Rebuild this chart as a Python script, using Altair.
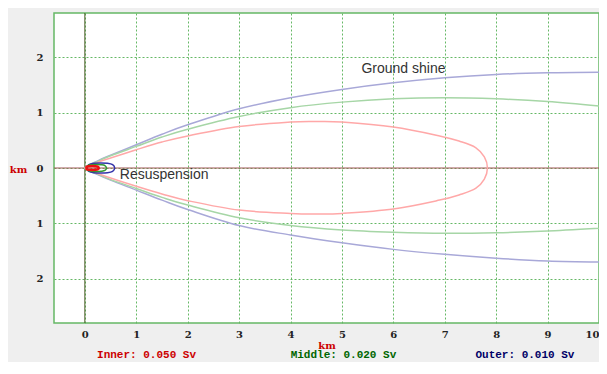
import altair as alt
import pandas as pd

# ---- Ground shine contours ----
outer_x = [0, 0.25, 0.5, 1, 1.5, 2, 3, 4, 5, 6, 7, 8, 9, 10]
outer_up = [0, 0.13, 0.23, 0.42, 0.61, 0.78, 1.07, 1.27, 1.42, 1.54, 1.63, 1.69, 1.72, 1.73]
outer_lo = [0, -0.12, -0.22, -0.40, -0.58, -0.75, -1.04, -1.21, -1.35, -1.47, -1.56, -1.63, -1.68, -1.70]

middle_x = [0, 0.25, 0.5, 1, 1.5, 2, 3, 4, 5, 6, 7, 8, 9, 10]
middle_up = [0, 0.12, 0.22, 0.39, 0.56, 0.70, 0.93, 1.09, 1.19, 1.25, 1.27, 1.25, 1.20, 1.12]
middle_lo = [0, -0.11, -0.21, -0.37, -0.53, -0.67, -0.90, -1.04, -1.12, -1.16, -1.18, -1.17, -1.14, -1.09]

inner_x = [0, 0.25, 0.5, 1, 1.5, 2, 3, 4, 4.5, 5, 6, 6.9, 7.3, 7.6, 7.77, 7.83]
inner_up = [0, 0.10, 0.18, 0.33, 0.47, 0.58, 0.75, 0.83, 0.84, 0.83, 0.74, 0.58, 0.48, 0.37, 0.20, 0]
inner_lo = [0, -0.10, -0.18, -0.33, -0.47, -0.59, -0.76, -0.82, -0.83, -0.82, -0.74, -0.58, -0.48, -0.37, -0.20, 0]

# ---- Resuspension contours (small loops near the source) ----
res_outer_x = [0.04, 0.08, 0.18, 0.31, 0.44, 0.54, 0.58, 0.54, 0.44, 0.31, 0.18, 0.08, 0.04]
res_outer_y = [0, 0.06, 0.085, 0.09, 0.085, 0.06, 0, -0.06, -0.085, -0.09, -0.085, -0.06, 0]
res_middle_x = [0.03, 0.06, 0.13, 0.225, 0.32, 0.39, 0.42, 0.39, 0.32, 0.225, 0.13, 0.06, 0.03]
res_middle_y = [0, 0.045, 0.06, 0.065, 0.06, 0.045, 0, -0.045, -0.06, -0.065, -0.06, -0.045, 0]
res_inner_x = [0.02, 0.04, 0.09, 0.145, 0.2, 0.25, 0.27, 0.25, 0.2, 0.145, 0.09, 0.04, 0.02]
res_inner_y = [0, 0.025, 0.033, 0.035, 0.033, 0.025, 0, -0.025, -0.033, -0.035, -0.033, -0.025, 0]

x_ticks = [0, 1, 2, 3, 4, 5, 6, 7, 8, 9, 10]
y_ticks = [-2, -1, 0, 1, 2]

legend_text = ["Inner: 0.050 Sv", "Middle: 0.020 Sv", "Outer: 0.010 Sv"]
legend_x = [1.2, 5.03, 8.56]
legend_col = ["#cc0000", "#006600", "#000066"]

labels = ["Ground shine", "Resuspension"]
label_x = [5.38, 0.68]
label_y = [1.78, -0.13]

rows = []
def add_open(name, xs, up, lo):
    pts = list(zip(xs, up))[::-1] + list(zip(xs, lo))[1:]
    for i, (a, b) in enumerate(pts):
        rows.append({"curve": name, "x": a, "y": b, "o": i})

def add_closed(name, xs, up, lo):
    pts = list(zip(xs, up)) + list(zip(xs, lo))[::-1][1:]
    for i, (a, b) in enumerate(pts):
        rows.append({"curve": name, "x": a, "y": b, "o": i})

def add_loop(name, xs, ys):
    for i, (a, b) in enumerate(zip(xs, ys)):
        rows.append({"curve": name, "x": a, "y": b, "o": i})

add_open("gs_outer", outer_x, outer_up, outer_lo)
add_open("gs_middle", middle_x, middle_up, middle_lo)
add_closed("gs_inner", inner_x, inner_up, inner_lo)
add_loop("rs_outer", res_outer_x, res_outer_y)
add_loop("rs_middle", res_middle_x, res_middle_y)
add_loop("rs_inner", res_inner_x, res_inner_y)
df = pd.DataFrame(rows)

xs = alt.Scale(domain=[-0.6, 10], nice=False, zero=False)
ys = alt.Scale(domain=[-2.8, 2.8], nice=False, zero=False)

AXFONT = "DejaVu Serif"

base = alt.Chart(df).encode(
    x=alt.X("x:Q", scale=xs, axis=alt.Axis(
        values=x_ticks, title="km", grid=True, gridColor="#66b866", gridDash=[2, 2],
        gridWidth=1, ticks=False, domain=False, labelFont=AXFONT, labelFontWeight="bold",
        labelFontSize=10, labelColor="#222222", labelPadding=6,
        titleColor="#cc0000", titleFont=AXFONT, titleFontWeight="bold", titleFontSize=10,
        titlePadding=1)),
    y=alt.Y("y:Q", scale=ys, axis=alt.Axis(
        values=y_ticks, title="km", grid=True, gridColor="#66b866", gridDash=[2, 2],
        gridWidth=1, ticks=False, domain=False, labelFont=AXFONT, labelFontWeight="bold",
        labelFontSize=10, labelColor="#222222", labelPadding=11,
        labelExpr="abs(datum.value)",
        titleColor="#cc0000", titleFont=AXFONT, titleFontWeight="bold", titleFontSize=10,
        titleAngle=0, titleX=-36, titleY=156, titleAlign="center", titleBaseline="middle")),
    order="o:Q",
)

def curve(name, color, width=1.5):
    return base.transform_filter(alt.datum.curve == name).mark_line(
        color=color, strokeWidth=width, interpolate="cardinal")

axis0 = pd.DataFrame({"v": [0]})
hline = alt.Chart(axis0).mark_rule(color="#a05555", strokeWidth=1).encode(y=alt.Y("v:Q", scale=ys))
vline = alt.Chart(axis0).mark_rule(color="#4a5a25", strokeWidth=1).encode(x=alt.X("v:Q", scale=xs))

lab = alt.Chart(pd.DataFrame({"t": labels, "x": label_x, "y": label_y})).mark_text(
    align="left", baseline="middle", font="Liberation Sans", fontSize=14, color="#333333"
).encode(x=alt.X("x:Q", scale=xs), y=alt.Y("y:Q", scale=ys), text="t:N")

leg = alt.Chart(pd.DataFrame({"t": legend_text, "x": legend_x, "c": legend_col})).mark_text(
    align="center", baseline="middle", font="Liberation Mono", fontWeight="bold", fontSize=11
).encode(x=alt.X("x:Q", scale=xs), y=alt.value(342), text="t:N",
         color=alt.Color("c:N", scale=None))

chart = alt.layer(
    hline, vline,
    curve("gs_outer", "#a8a8d8"),
    curve("gs_middle", "#a6d6a6"),
    curve("gs_inner", "#ffa8a8"),
    curve("rs_outer", "#3333aa", 1.5),
    curve("rs_middle", "#339933", 1.5),
    curve("rs_inner", "#ee1111", 2.5),
    lab, leg,
).properties(
    width=545, height=310, background="#efefef",
    autosize=alt.AutoSizeParams(type="none"),
    padding={"left": 46, "top": 5, "right": 0, "bottom": 39},
).configure_view(
    fill="white", stroke="#66b866", strokeWidth=1.5
)

chart.save("out.html", embed_options={"renderer": "svg", "actions": False})
